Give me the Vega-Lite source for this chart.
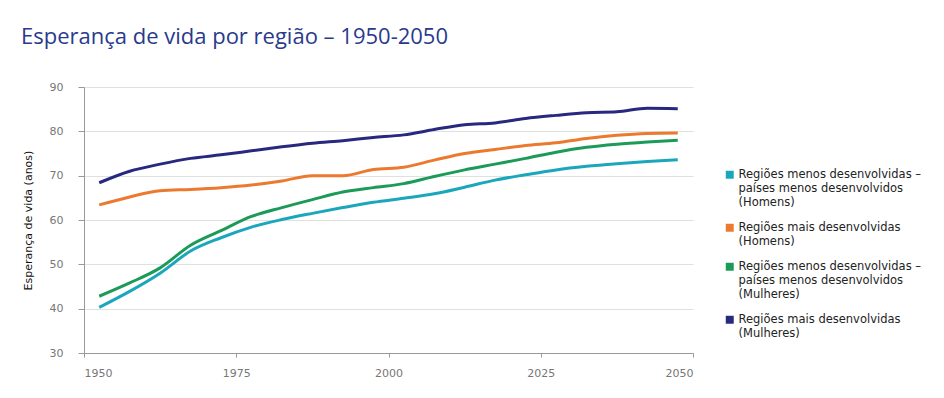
{
  "$schema": "https://vega.github.io/schema/vega-lite/v6.json",
  "width": 609,
  "height": 266,
  "autosize": {"type": "none"},
  "padding": {"left": 84, "top": 87, "right": 251, "bottom": 45},
  "background": "white",
  "title": {
    "text": "Esperança de vida por região – 1950-2050",
    "anchor": "start",
    "frame": "group",
    "dx": -63,
    "offset": 32,
    "font": "Open Sans",
    "fontSize": 22,
    "fontWeight": "normal",
    "color": "#2a3a8c"
  },
  "data": {
    "values": [
      {"ano": 1952.5, "hmenos": 40.3, "hmais": 63.4, "mmenos": 42.8, "mmais": 68.4},
      {"ano": 1957.5, "hmenos": 43.9, "hmais": 65.2, "mmenos": 45.8, "mmais": 71.0},
      {"ano": 1962.5, "hmenos": 48.0, "hmais": 66.6, "mmenos": 49.2, "mmais": 72.6},
      {"ano": 1967.5, "hmenos": 53.0, "hmais": 66.9, "mmenos": 54.3, "mmais": 73.9},
      {"ano": 1972.5, "hmenos": 56.0, "hmais": 67.3, "mmenos": 57.6, "mmais": 74.7},
      {"ano": 1977.5, "hmenos": 58.4, "hmais": 67.9, "mmenos": 60.8, "mmais": 75.6},
      {"ano": 1982.5, "hmenos": 60.1, "hmais": 68.8, "mmenos": 62.8, "mmais": 76.5},
      {"ano": 1987.5, "hmenos": 61.5, "hmais": 70.0, "mmenos": 64.6, "mmais": 77.3},
      {"ano": 1992.5, "hmenos": 62.8, "hmais": 70.0, "mmenos": 66.3, "mmais": 77.9},
      {"ano": 1997.5, "hmenos": 64.0, "hmais": 71.4, "mmenos": 67.3, "mmais": 78.6},
      {"ano": 2002.5, "hmenos": 64.9, "hmais": 71.9, "mmenos": 68.2, "mmais": 79.2},
      {"ano": 2007.5, "hmenos": 65.9, "hmais": 73.5, "mmenos": 69.8, "mmais": 80.4},
      {"ano": 2012.5, "hmenos": 67.4, "hmais": 75.0, "mmenos": 71.3, "mmais": 81.5},
      {"ano": 2017.5, "hmenos": 69.0, "hmais": 75.9, "mmenos": 72.6, "mmais": 81.9},
      {"ano": 2022.5, "hmenos": 70.2, "hmais": 76.8, "mmenos": 73.9, "mmais": 82.9},
      {"ano": 2027.5, "hmenos": 71.3, "hmais": 77.4, "mmenos": 75.3, "mmais": 83.6},
      {"ano": 2032.5, "hmenos": 72.1, "hmais": 78.4, "mmenos": 76.4, "mmais": 84.2},
      {"ano": 2037.5, "hmenos": 72.7, "hmais": 79.1, "mmenos": 77.1, "mmais": 84.4},
      {"ano": 2042.5, "hmenos": 73.2, "hmais": 79.5, "mmenos": 77.6, "mmais": 85.2},
      {"ano": 2047.5, "hmenos": 73.6, "hmais": 79.6, "mmenos": 78.0, "mmais": 85.1}
    ]
  },
  "transform": [
    {"fold": ["hmenos", "hmais", "mmenos", "mmais"], "as": ["serie", "valor"]}
  ],
  "mark": {"type": "line", "strokeWidth": 3, "interpolate": "monotone"},
  "encoding": {
    "x": {
      "field": "ano",
      "type": "quantitative",
      "scale": {"domain": [1950, 2050], "nice": false, "zero": false},
      "axis": {
        "title": null,
        "values": [1950, 1975, 2000, 2025, 2050],
        "format": "d",
        "grid": false,
        "tickSize": 4,
        "labelPadding": 10,
        "domainColor": "#999999",
        "tickColor": "#999999",
        "labelColor": "#777777",
        "labelFont": "DejaVu Sans",
        "labelFontSize": 11
      }
    },
    "y": {
      "field": "valor",
      "type": "quantitative",
      "scale": {"domain": [30, 90], "nice": false, "zero": false},
      "axis": {
        "title": "Esperança de vida (anos)",
        "values": [30, 40, 50, 60, 70, 80, 90],
        "grid": true,
        "gridColor": "#e0e0e0",
        "tickSize": 6,
        "labelPadding": 15,
        "domainColor": "#999999",
        "tickColor": "#999999",
        "labelColor": "#777777",
        "labelFont": "DejaVu Sans",
        "labelFontSize": 11,
        "titleFont": "DejaVu Sans",
        "titleFontSize": 11,
        "titleFontWeight": "normal",
        "titleColor": "#111111",
        "titlePadding": 16
      }
    },
    "color": {
      "field": "serie",
      "type": "nominal",
      "scale": {
        "domain": ["hmenos", "hmais", "mmenos", "mmais"],
        "range": ["#1ba7bb", "#ec7a2e", "#1c9a58", "#27287e"]
      },
      "legend": {
        "title": null,
        "orient": "none",
        "legendX": 640,
        "legendY": 82,
        "symbolType": "square",
        "symbolSize": 12,
        "symbolStrokeWidth": 4.5,
        "labelFont": "DejaVu Sans",
        "labelFontSize": 11.5,
        "labelColor": "#222222",
        "labelLimit": 300,
        "labelOffset": 3,
        "rowPadding": 8,
        "encode": {"labels": {"update": {"lineHeight": {"value": 14}}}},
        "labelExpr": "datum.value == 'hmenos' ? ['Regiões menos desenvolvidas –', 'países menos desenvolvidos', '(Homens)'] : datum.value == 'hmais' ? ['Regiões mais desenvolvidas', '(Homens)'] : datum.value == 'mmenos' ? ['Regiões menos desenvolvidas –', 'países menos desenvolvidos', '(Mulheres)'] : ['Regiões mais desenvolvidas', '(Mulheres)']"
      }
    }
  },
  "config": {"view": {"stroke": null}}
}
